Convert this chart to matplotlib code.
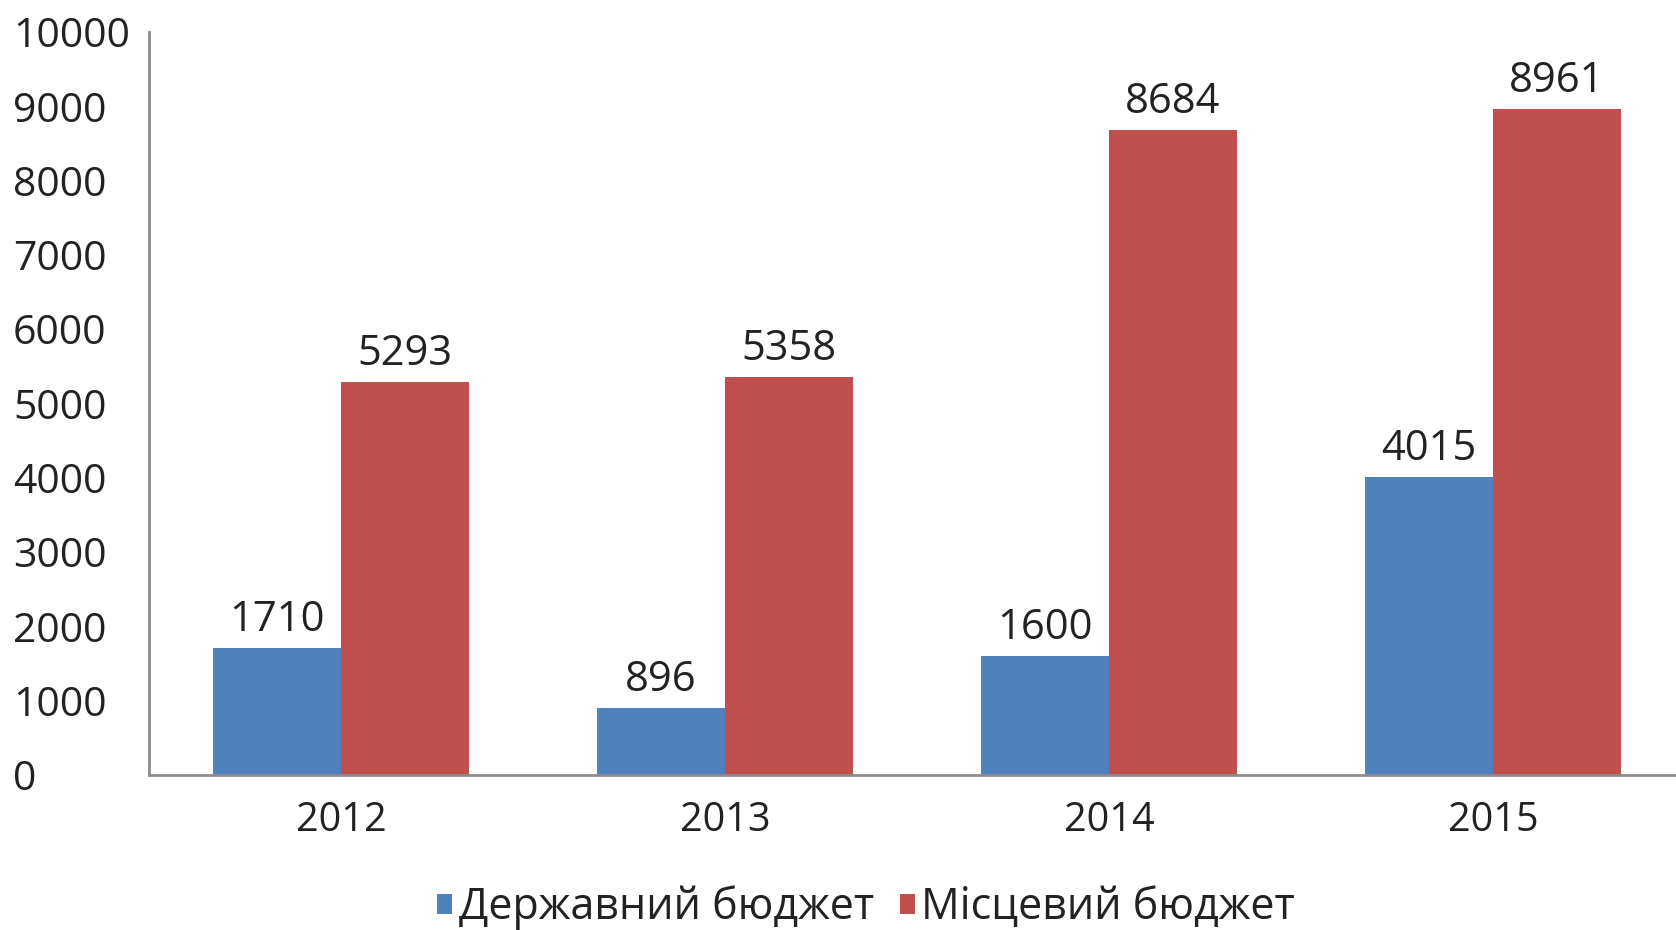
import matplotlib
matplotlib.use("Agg")
import matplotlib.pyplot as plt
import numpy as np

years = ["2012", "2013", "2014", "2015"]
state_budget = [1710, 896, 1600, 4015]
local_budget = [5293, 5358, 8684, 8961]
series_names = ["Державний бюджет", "Місцевий бюджет"]
yticks = list(range(0, 10001, 1000))

plt.rcParams['font.family'] = ['Open Sans', 'DejaVu Sans']

fig = plt.figure(figsize=(16.76, 9.3), dpi=100)
ax = fig.add_axes([149/1676, 155/930, 1536/1676, 743/930])

x = np.arange(len(years))
w = 1/3
c_blue = "#4F81BD"
c_red = "#C0504D"
b1 = ax.bar(x - w/2, state_budget, w, color=c_blue, label=series_names[0])
b2 = ax.bar(x + w/2, local_budget, w, color=c_red, label=series_names[1])

for bars in (b1, b2):
    for r in bars:
        ax.annotate(f"{int(r.get_height())}", (r.get_x() + r.get_width()/2, r.get_height()),
                    xytext=(0, 5), textcoords="offset points", ha="center", va="bottom",
                    fontsize=30, color="#222222")

ax.set_xlim(-0.5, len(years) - 0.5)
ax.set_ylim(0, 10000)
ax.set_yticks(yticks)
ax.set_xticks(x)
ax.set_xticklabels(years, fontsize=28.5, color="#222222")
ax.tick_params(axis='x', length=0, pad=18)
ax.tick_params(axis='y', length=0, pad=98, labelsize=29.5, labelcolor="#222222")
for lab in ax.get_yticklabels():
    lab.set_horizontalalignment('left')

for s in ("top", "right"):
    ax.spines[s].set_visible(False)
for s in ("left", "bottom"):
    ax.spines[s].set_color("#8c8c8c")
    ax.spines[s].set_linewidth(2)

leg = fig.legend(handles=[b1, b2], labels=series_names, loc="center",
                 bbox_to_anchor=(866/1676, 1 - 908/930), ncol=2, frameon=False,
                 fontsize=31, handlelength=0.35, handleheight=0.35, handletextpad=0.15,
                 columnspacing=0.6)
for t in leg.get_texts():
    t.set_color("#222222")

fig.savefig("out.png", dpi=100)
